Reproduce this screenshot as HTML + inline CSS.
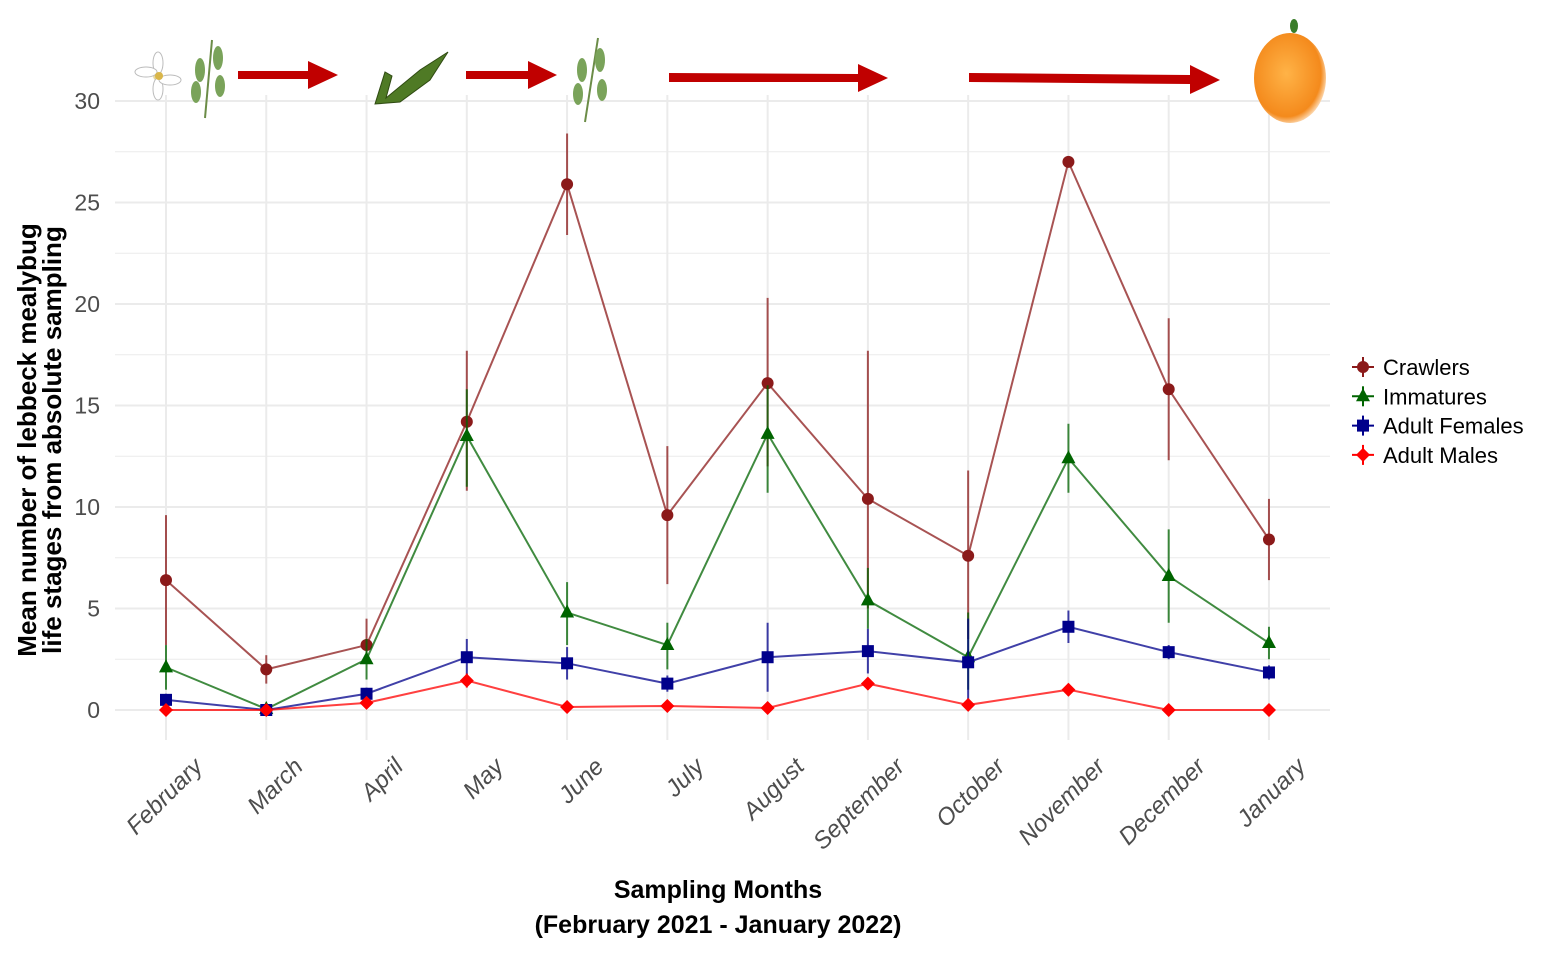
<!DOCTYPE html>
<html><head><meta charset="utf-8">
<style>
body{margin:0;background:#fff;width:1551px;height:957px;overflow:hidden;font-family:"Liberation Sans",sans-serif}
</style></head>
<body>
<svg id="chart" width="1551" height="957" xmlns="http://www.w3.org/2000/svg">
<g id="grid"></g>
<g id="icons">
  <g><circle cx="158" cy="76" r="5" fill="#e8d9a0"/>
    <ellipse cx="158" cy="63" rx="5" ry="11" fill="#fff" stroke="#bbb"/><ellipse cx="158" cy="89" rx="5" ry="11" fill="#fff" stroke="#bbb"/>
    <ellipse cx="146" cy="72" rx="11" ry="5" fill="#fff" stroke="#bbb"/><ellipse cx="170" cy="80" rx="11" ry="5" fill="#fff" stroke="#bbb"/><circle cx="159" cy="76" r="4" fill="#d9b64a"/></g>
  <g fill="#7aa35a"><path d="M205 118 L212 40" stroke="#6b8c47" stroke-width="2"/><ellipse cx="200" cy="70" rx="5" ry="12"/><ellipse cx="218" cy="58" rx="5" ry="12"/><ellipse cx="196" cy="92" rx="5" ry="11"/><ellipse cx="220" cy="86" rx="5" ry="11"/></g>
  <polygon points="238,71 308,71 308,61 338,75 308,89 308,79 238,79" fill="#c00000"/>
  <g><path d="M375 104 L385 72 L392 76 L386 98 L420 70 L448 52 L430 80 L400 102 Z" fill="#4f7a25" stroke="#2f4a12"/></g>
  <polygon points="466,71 528,71 528,61 557,75 528,89 528,79 466,79" fill="#c00000"/>
  <g fill="#7aa35a"><path d="M585 122 L598 38" stroke="#6b8c47" stroke-width="2"/><ellipse cx="582" cy="70" rx="5" ry="12"/><ellipse cx="600" cy="60" rx="5" ry="12"/><ellipse cx="578" cy="94" rx="5" ry="11"/><ellipse cx="602" cy="90" rx="5" ry="11"/></g>
  <polygon points="669,73 858,74 858,64 888,78 858,92 858,82 669,82" fill="#c00000"/>
  <polygon points="969,73 1190,75 1190,65 1220,80 1190,94 1190,84 969,82" fill="#c00000"/>
  <g><defs><radialGradient id="og" cx="0.45" cy="0.45" r="0.6"><stop offset="0" stop-color="#ffb347"/><stop offset="0.8" stop-color="#f48a1c"/><stop offset="1" stop-color="#fff2e0"/></radialGradient></defs>
  <ellipse cx="1290" cy="78" rx="36" ry="45" fill="url(#og)"/><ellipse cx="1294" cy="26" rx="4" ry="7" fill="#3a7d2a"/></g>
</g>
<g id="marks"></g>
<g id="axes"></g>
<text transform="translate(36,440) rotate(-90)" text-anchor="middle" font-weight="bold" font-size="26" fill="#000">Mean number of lebbeck mealybug</text>
<text transform="translate(61,440) rotate(-90)" text-anchor="middle" font-weight="bold" font-size="26" fill="#000">life stages from absolute sampling</text>
<text x="718" y="898" text-anchor="middle" font-weight="bold" font-size="25" fill="#000">Sampling Months</text>
<text x="718" y="933" text-anchor="middle" font-weight="bold" font-size="25" fill="#000">(February 2021 - January 2022)</text>
<g id="legend"></g>
</svg>
<script>
const months=["February","March","April","May","June","July","August","September","October","November","December","January"];
const yTicks=[0,5,10,15,20,25,30];
const seriesNames=["Crawlers","Immatures","Adult Females","Adult Males"];
const crawlers=[6.4,2.0,3.2,14.2,25.9,9.6,16.1,10.4,7.6,27.0,15.8,8.4];
const crawlersLo=[3.2,1.3,2.4,10.8,23.4,6.2,12.0,5.0,3.5,26.8,12.3,6.4];
const crawlersHi=[9.6,2.7,4.5,17.7,28.4,13.0,20.3,17.7,11.8,27.2,19.3,10.4];
const immatures=[2.1,0.05,2.5,13.5,4.8,3.2,13.6,5.4,2.6,12.4,6.6,3.3];
const immaturesLo=[1.0,0,1.5,11.0,3.2,2.0,10.7,4.0,1.0,10.7,4.3,2.5];
const immaturesHi=[3.2,0.2,3.5,15.8,6.3,4.3,16.0,7.0,4.8,14.1,8.9,4.1];
const females=[0.5,0,0.8,2.6,2.3,1.3,2.6,2.9,2.35,4.1,2.85,1.85];
const femalesLo=[0.2,0,0.5,1.7,1.5,0.9,0.9,1.8,0.5,3.3,2.5,1.5];
const femalesHi=[0.8,0.1,1.1,3.5,3.1,1.7,4.3,4.0,4.5,4.9,3.2,2.2];
const males=[0,0,0.35,1.45,0.15,0.2,0.1,1.3,0.25,1.0,0,0];
const malesLo=[0,0,0.2,1.1,0,0,0,1.0,0,0.7,0,0];
const malesHi=[0.1,0.1,0.5,1.8,0.3,0.4,0.2,1.6,0.4,1.3,0.1,0.1];

const NS="http://www.w3.org/2000/svg";
const X=i=>166+i*100.27;
const Y=v=>710-v*20.3;
function mk(tag,attrs,parent){const e=document.createElementNS(NS,tag);for(const k in attrs)e.setAttribute(k,attrs[k]);parent.appendChild(e);return e;}
const grid=document.getElementById('grid'),axes=document.getElementById('axes'),marks=document.getElementById('marks'),legend=document.getElementById('legend');
for(let v=0;v<=30;v+=2.5){const l=mk('line',{x1:115,x2:1330,y1:Y(v),y2:Y(v),stroke:'#ebebeb','stroke-width':v%5===0?2:1},grid);

}
months.forEach((m,i)=>{const l=mk('line',{x1:X(i),x2:X(i),y1:95,y2:740,stroke:'#ebebeb','stroke-width':2},grid);


const t=mk('text',{transform:`translate(${X(i)+38},${768}) rotate(-45)`,'text-anchor':'end','font-size':24,fill:'#4d4d4d','font-style':'italic'},axes);t.textContent=m;

});
yTicks.forEach(v=>{const t=mk('text',{x:100,y:Y(v)+8,'text-anchor':'end','font-size':23,fill:'#4d4d4d'},axes);t.textContent=v;

});
const defs=[
 {vals:crawlers,lo:crawlersLo,hi:crawlersHi,color:'#8b1a1a',shape:'circle'},
 {vals:immatures,lo:immaturesLo,hi:immaturesHi,color:'#006400',shape:'triangle'},
 {vals:females,lo:femalesLo,hi:femalesHi,color:'#00008b',shape:'square'},
 {vals:males,lo:malesLo,hi:malesHi,color:'#ff0000',shape:'diamond'}];
function marker(shape,x,y,c,p){
 if(shape==='circle')return mk('circle',{cx:x,cy:y,r:6,fill:c},p);
 if(shape==='triangle')return mk('polygon',{points:`${x},${y-8} ${x+7},${y+5} ${x-7},${y+5}`,fill:c},p);
 if(shape==='square')return mk('rect',{x:x-6,y:y-6,width:12,height:12,fill:c},p);
 return mk('polygon',{points:`${x},${y-7} ${x+7},${y} ${x},${y+7} ${x-7},${y}`,fill:c},p);}
defs.forEach((d,s)=>{
 const g=mk('g',{},marks);
 
 
 d.vals.forEach((v,i)=>{const e=mk('line',{x1:X(i),x2:X(i),y1:Y(d.lo[i]),y2:Y(d.hi[i]),stroke:d.color,'stroke-width':2,opacity:0.75},g);
 
 });
 const pl=mk('polyline',{points:d.vals.map((v,i)=>X(i)+','+Y(v)).join(' '),fill:'none',stroke:d.color,'stroke-width':2,opacity:0.75},g);
 
 
 d.vals.forEach((v,i)=>{const m=marker(d.shape,X(i),Y(v),d.color,g);
 
 });
 const ly=367+s*29.3;
 const lg=mk('g',{},legend);
 
 
 mk('line',{x1:1352,x2:1374,y1:ly,y2:ly,stroke:d.color,'stroke-width':2},lg);
 mk('line',{x1:1363,x2:1363,y1:ly-10,y2:ly+10,stroke:d.color,'stroke-width':2},lg);
 marker(d.shape,1363,ly,d.color,lg);
 const t=mk('text',{x:1383,y:ly+8,'font-size':22,fill:'#000'},lg);t.textContent=seriesNames[s];
});
</script>
</body></html>
